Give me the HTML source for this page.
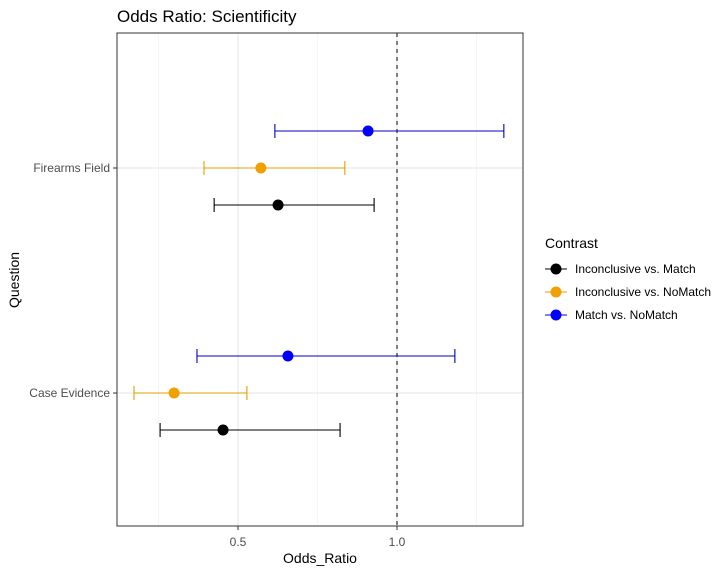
<!DOCTYPE html>
<html><head><meta charset="utf-8"><style>
body{margin:0;background:#fff;font-family:"Liberation Sans",Arial,sans-serif}
</style></head><body>
<svg id="chart" width="727" height="572" xmlns="http://www.w3.org/2000/svg" font-family="Liberation Sans, Arial, sans-serif">
<rect width="727" height="572" fill="#fff"/>
<text x="117" y="22" font-size="17" fill="#000">Odds Ratio: Scientificity</text>
<g id="grid"></g>
<g id="marks"></g>
<rect x="117" y="33" width="406" height="493" fill="none" stroke="#333" stroke-width="1"/>
<g id="axes"></g>
<text x="320" y="563" font-size="14" text-anchor="middle">Odds_Ratio</text>
<text transform="translate(19,280) rotate(-90)" font-size="14" text-anchor="middle">Question</text>
<g id="legend"></g>
</svg>
<script>
const questions = ["Firearms Field", "Case Evidence"];
const contrasts = ["Inconclusive vs. Match", "Inconclusive vs. NoMatch", "Match vs. NoMatch"];
const colors = ["#000000", "#F0A000", "#0000FF"];
const barColors = ["#000000", "#E0A000", "#0000C0"];
const estFirearms = [0.626, 0.572, 0.909];
const lowFirearms = [0.425, 0.393, 0.616];
const highFirearms = [0.928, 0.836, 1.336];
const estCase = [0.453, 0.299, 0.657];
const lowCase = [0.255, 0.173, 0.371];
const highCase = [0.821, 0.528, 1.182];
const xTicks = [0.5, 1.0];
const xTickLabels = ["0.5", "1.0"];
const xMinor = [0.25, 0.75, 1.25];
const refLine = 1.0;

const NS = "http://www.w3.org/2000/svg";
const xScale = v => 238 + (v - 0.5) * 318;
const yBand = i => [168, 393][i];
const dodge = j => [37, 0, -37][j];
function mk(tag, attrs, parent){const e=document.createElementNS(NS,tag);for(const k in attrs)e.setAttribute(k,attrs[k]);document.getElementById(parent).appendChild(e);return e;}

xMinor.forEach(v=>{const e=mk("line",{x1:xScale(v),x2:xScale(v),y1:33,y2:526,stroke:"#f0f0f0","stroke-width":0.6},"grid");

});
xTicks.forEach((v,i)=>{const e=mk("line",{x1:xScale(v),x2:xScale(v),y1:33,y2:526,stroke:"#e6e6e6","stroke-width":1},"grid");


const t=mk("line",{x1:xScale(v),x2:xScale(v),y1:526,y2:530,stroke:"#333"},"axes");


const l=mk("text",{x:xScale(v),y:546,"font-size":12,fill:"#4d4d4d","text-anchor":"middle"},"axes");l.textContent=xTickLabels[i];

});
questions.forEach((q,i)=>{const e=mk("line",{x1:117,x2:523,y1:yBand(i),y2:yBand(i),stroke:"#e6e6e6","stroke-width":1},"grid");


const t=mk("line",{x1:113,x2:117,y1:yBand(i),y2:yBand(i),stroke:"#333"},"axes");


const l=mk("text",{x:110,y:yBand(i)+4,"font-size":12,fill:"#4d4d4d","text-anchor":"end"},"axes");l.textContent=q;

});
const rl=mk("line",{x1:xScale(refLine),x2:xScale(refLine),y1:33,y2:526,stroke:"#000","stroke-dasharray":"4,4"},"marks");



const data=[[estFirearms,lowFirearms,highFirearms],[estCase,lowCase,highCase]];
data.forEach((d,i)=>{contrasts.forEach((c,j)=>{const y=yBand(i)+dodge(j);const x1=xScale(d[1][j]),x2=xScale(d[2][j]);
const h=mk("line",{x1:x1,x2:x2,y1:y,y2:y,stroke:barColors[j],"stroke-width":1.1},"marks");


[x1,x2].forEach(x=>{const cp=mk("line",{x1:x,x2:x,y1:y-7,y2:y+7,stroke:barColors[j],"stroke-width":1.1},"marks");

});
const p=mk("circle",{cx:xScale(d[0][j]),cy:y,r:5.5,fill:colors[j]},"marks");

});});

const lt=mk("text",{x:545,y:248,"font-size":14},"legend");lt.textContent="Contrast";


contrasts.forEach((c,j)=>{const y=269+j*23;
const ln=mk("line",{x1:545,x2:567,y1:y,y2:y,stroke:barColors[j],"stroke-width":1.1},"legend");


const pt=mk("circle",{cx:556,cy:y,r:5.5,fill:colors[j]},"legend");


const t=mk("text",{x:575,y:y+4,"font-size":12},"legend");t.textContent=c;

});
</script>
</body></html>
